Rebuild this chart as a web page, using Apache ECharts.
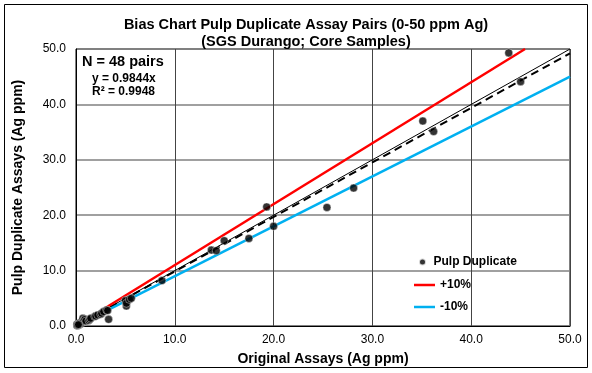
<!DOCTYPE html>
<html>
<head>
<meta charset="utf-8">
<script src="https://cdn.jsdelivr.net/npm/echarts@6/dist/echarts.min.js"></script>
<style>
html, body { margin: 0; padding: 0; background: #fff; }
#main { width: 592px; height: 373px; }
</style>
</head>
<body>
<div id="main"></div>
<script>
// original vs duplicate assays (Ag ppm)
var pulpDuplicate = [
  [0.1, 0.1], [0.1, 0.2], [0.2, 0.1], [0.2, 0.3], [0.3, 0.2], [0.1, 0.3],
  [0.2, 0.2], [0.3, 0.3], [0.4, 0.4], [0.5, 0.4], [0.4, 0.6], [0.6, 0.7],
  [0.7, 1.4], [0.8, 1.0], [0.9, 1.2], [1.0, 0.9], [1.3, 1.0], [1.4, 1.2],
  [1.5, 1.4], [1.9, 1.7], [2.0, 1.8], [2.2, 2.0], [2.5, 2.1], [2.6, 2.3],
  [2.8, 2.6], [3.1, 2.9], [3.2, 2.8], [3.3, 1.2], [5.0, 4.6], [5.1, 3.6],
  [5.1, 4.1], [5.4, 4.8], [5.6, 5.0], [8.7, 8.2], [13.7, 13.7], [14.2, 13.6],
  [15.0, 15.4], [17.5, 15.8], [19.3, 21.5], [20.0, 18.0], [25.4, 21.4], [28.1, 24.9],
  [35.1, 37.0], [36.2, 35.1], [43.8, 49.3], [45.0, 44.1], [0.15, 0.15], [0.25, 0.25]
];
var plus10 = [[3, 3.3], [45.45, 50]];
var minus10 = [[3, 2.7], [50, 45]];
var oneToOne = [[0, 0], [50, 50]];
var regression = [[0, 0], [50, 49.22]];
var axisTicks = [0, 10, 20, 30, 40, 50];

var font = 'Liberation Sans, Arial, sans-serif';
var myChart = echarts.init(document.getElementById('main'));

var legendText = { fontFamily: font, fontSize: 12, fontWeight: 'bold', color: '#000' };

var option = {
  animation: false,
  backgroundColor: '#fff',
  title: {
    text: 'Bias Chart Pulp Duplicate Assay Pairs (0-50 ppm Ag)\n(SGS Durango; Core Samples)',
    left: 301,
    textAlign: 'center',
    top: 11,
    textStyle: { fontFamily: font, fontSize: 14.5, fontWeight: 'bold', color: '#000', lineHeight: 17 }
  },
  grid: {
    left: 76, right: 22, top: 49, bottom: 47,
    outerBoundsMode: 'none',
    show: true, borderColor: '#000', borderWidth: 1
  },
  legend: [
    {
      orient: 'vertical',
      left: 413,
      top: 251,
      itemWidth: 12,
      itemHeight: 7,
      itemGap: 4,
      textStyle: legendText,
      data: [{ name: 'Pulp Duplicate', icon: 'circle' }]
    },
    {
      orient: 'vertical',
      left: 409,
      top: 274,
      itemWidth: 21,
      itemHeight: 2.5,
      itemGap: 10,
      icon: 'rect',
      textStyle: legendText,
      data: ['+10%', '-10%']
    }
  ],
  xAxis: {
    type: 'value',
    min: axisTicks[0],
    max: axisTicks[axisTicks.length - 1],
    interval: 10,
    name: 'Original Assays (Ag ppm)',
    nameLocation: 'middle',
    nameGap: 26,
    nameTextStyle: { fontFamily: font, fontSize: 14, fontWeight: 'bold', color: '#000' },
    axisLine: { lineStyle: { color: '#000' } },
    axisTick: { show: false },
    axisLabel: { fontFamily: font, fontSize: 12, color: '#000', margin: 8, formatter: function (v) { return v.toFixed(1); } },
    splitLine: { lineStyle: { color: '#444', width: 1 } }
  },
  yAxis: {
    type: 'value',
    min: axisTicks[0],
    max: axisTicks[axisTicks.length - 1],
    interval: 10,
    name: 'Pulp Duplicate Assays (Ag ppm)',
    nameLocation: 'middle',
    nameGap: 51,
    nameTextStyle: { fontFamily: font, fontSize: 14, fontWeight: 'bold', color: '#000' },
    axisLine: { lineStyle: { color: '#000' } },
    axisTick: { show: false },
    axisLabel: { fontFamily: font, fontSize: 12, color: '#000', margin: 10, formatter: function (v) { return v.toFixed(1); } },
    splitLine: { lineStyle: { color: '#808080', width: 1.5 } }
  },
  series: [
    {
      name: '1:1',
      type: 'line',
      data: oneToOne,
      symbol: 'none',
      lineStyle: { color: '#000', width: 1 },
      z: 3
    },
    {
      name: 'Trend',
      type: 'line',
      data: regression,
      symbol: 'none',
      lineStyle: { color: '#000', width: 2, type: [8, 5] },
      z: 3
    },
    {
      name: '+10%',
      type: 'line',
      data: plus10,
      symbol: 'none',
      lineStyle: { color: '#ff0000', width: 2.5 },
      itemStyle: { color: '#ff0000' },
      z: 3
    },
    {
      name: '-10%',
      type: 'line',
      data: minus10,
      symbol: 'none',
      lineStyle: { color: '#00b0f0', width: 2.5 },
      itemStyle: { color: '#00b0f0' },
      z: 3
    },
    {
      name: 'Pulp Duplicate',
      type: 'scatter',
      data: pulpDuplicate,
      symbol: 'circle',
      symbolSize: 8,
      itemStyle: { color: '#000', borderColor: '#fff', borderWidth: 0.5 },
      z: 4
    }
  ],
  graphic: [
    {
      type: 'rect',
      shape: { x: 4.5, y: 4.5, width: 583, height: 363 },
      style: { fill: 'none', stroke: '#000', lineWidth: 1 },
      z: -1
    },
    {
      type: 'text',
      left: 82,
      top: 54,
      style: { text: 'N = 48 pairs', font: 'bold 14.5px ' + font, fill: '#000' }
    },
    {
      type: 'text',
      left: 92,
      top: 73,
      style: { text: 'y = 0.9844x', font: 'bold 12px ' + font, fill: '#000' }
    },
    {
      type: 'text',
      left: 92,
      top: 86,
      style: { text: 'R² = 0.9948', font: 'bold 12px ' + font, fill: '#000' }
    }
  ]
};

myChart.setOption(option);
</script>
</body>
</html>
